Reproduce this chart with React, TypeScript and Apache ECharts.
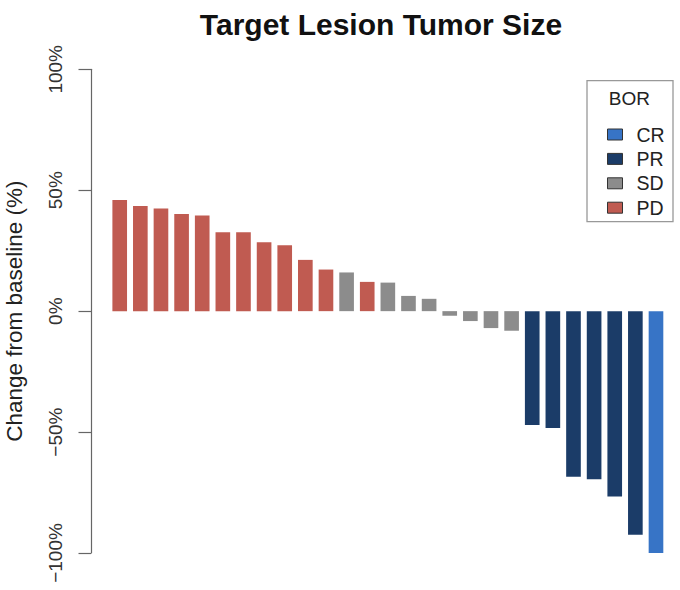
import { useEffect, useRef } from "react";
import * as echarts from "echarts";

const patients = Array.from({ length: 27 }, (_, i) => `P${i + 1}`);
const changes = [
  46, 43.5, 42.4, 40.2, 39.5, 32.6, 32.6, 28.5, 27.3, 21.2, 17.2, 16.0, 12.1,
  11.8, 6.3, 5.1, -1.9, -4.1, -7.0, -8.1, -47.1, -48.3, -68.5, -69.5, -76.6,
  -92.5, -100,
];
const response = [
  "PD", "PD", "PD", "PD", "PD", "PD", "PD", "PD", "PD", "PD", "PD", "SD", "PD",
  "SD", "SD", "SD", "SD", "SD", "SD", "SD", "PR", "PR", "PR", "PR", "PR", "PR",
  "CR",
];
const borLevels = ["CR", "PR", "SD", "PD"];
const borColors: Record<string, string> = {
  CR: "#3774c6",
  PR: "#1b3c68",
  SD: "#8c8c8c",
  PD: "#c05b51",
};

const fmtPct = (v: number) => (v < 0 ? `\u2212${Math.abs(v)}%` : `${v}%`);

export default function App() {
  const ref = useRef<HTMLDivElement>(null);

  useEffect(() => {
    document.body.style.margin = "0";
    if (!ref.current) return;
    const chart = echarts.init(ref.current, undefined, { renderer: "svg" });
    const font = "'Liberation Sans', Arial, Helvetica, sans-serif";

    chart.setOption({
      animation: false,
      backgroundColor: "#ffffff",
      textStyle: { fontFamily: font },
      title: {
        text: "Target Lesion Tumor Size",
        left: 376,
        top: 4,
        textAlign: "center",
        textStyle: { fontSize: 30, fontWeight: "bold", color: "#111", fontFamily: font },
      },
      grid: {
        left: 109.4,
        right: 13.7,
        top: 69.3,
        bottom: 37,
        outerBoundsMode: "none",
        containLabel: false,
      },
      xAxis: {
        type: "category",
        data: patients,
        show: false,
      },
      yAxis: {
        type: "value",
        min: -100,
        max: 100,
        interval: 50,
        offset: 18.4,
        name: "Change from baseline (%)",
        nameLocation: "middle",
        nameGap: 65,
        nameTextStyle: { fontSize: 22.5, color: "#222", fontFamily: font },
        axisLine: { show: true, lineStyle: { color: "#666", width: 1.2 } },
        axisTick: { show: true, length: 12.5, lineStyle: { color: "#666", width: 1.2 } },
        axisLabel: {
          rotate: 90,
          margin: 26,
          fontSize: 19,
          color: "#333",
          fontFamily: font,
          formatter: (v: number) => fmtPct(v),
        },
        splitLine: { show: false },
      },
      legend: {
        data: borLevels,
        orient: "vertical",
        left: 602,
        top: 119.5,
        itemWidth: 15,
        itemHeight: 11,
        itemGap: 4.4,
        icon: "rect",
        selectedMode: false,
        itemStyle: { borderColor: "#333", borderWidth: 1 },
        textStyle: {
          fontSize: 19.5,
          lineHeight: 19,
          color: "#222",
          fontFamily: font,
          padding: [0, 0, 0, 9],
        },
      },
      graphic: [
        {
          type: "rect",
          shape: { x: 587, y: 80.7, width: 86, height: 141 },
          style: { fill: "none", stroke: "#999", lineWidth: 1.3 },
          z: 10,
        },
        {
          type: "text",
          x: 629.3,
          y: 98.5,
          style: {
            text: "BOR",
            fontSize: 19,
            fill: "#222",
            fontFamily: font,
            align: "center",
            verticalAlign: "middle",
          },
          z: 10,
        },
      ],
      series: borLevels.map((lvl) => ({
        name: lvl,
        type: "bar",
        barWidth: "71%",
        barGap: "-100%",
        itemStyle: { color: borColors[lvl] },
        data: changes.map((v, i) => (response[i] === lvl ? v : null)),
      })),
    });

    return () => chart.dispose();
  }, []);

  return <div ref={ref} style={{ width: 680, height: 590 }} />;
}
